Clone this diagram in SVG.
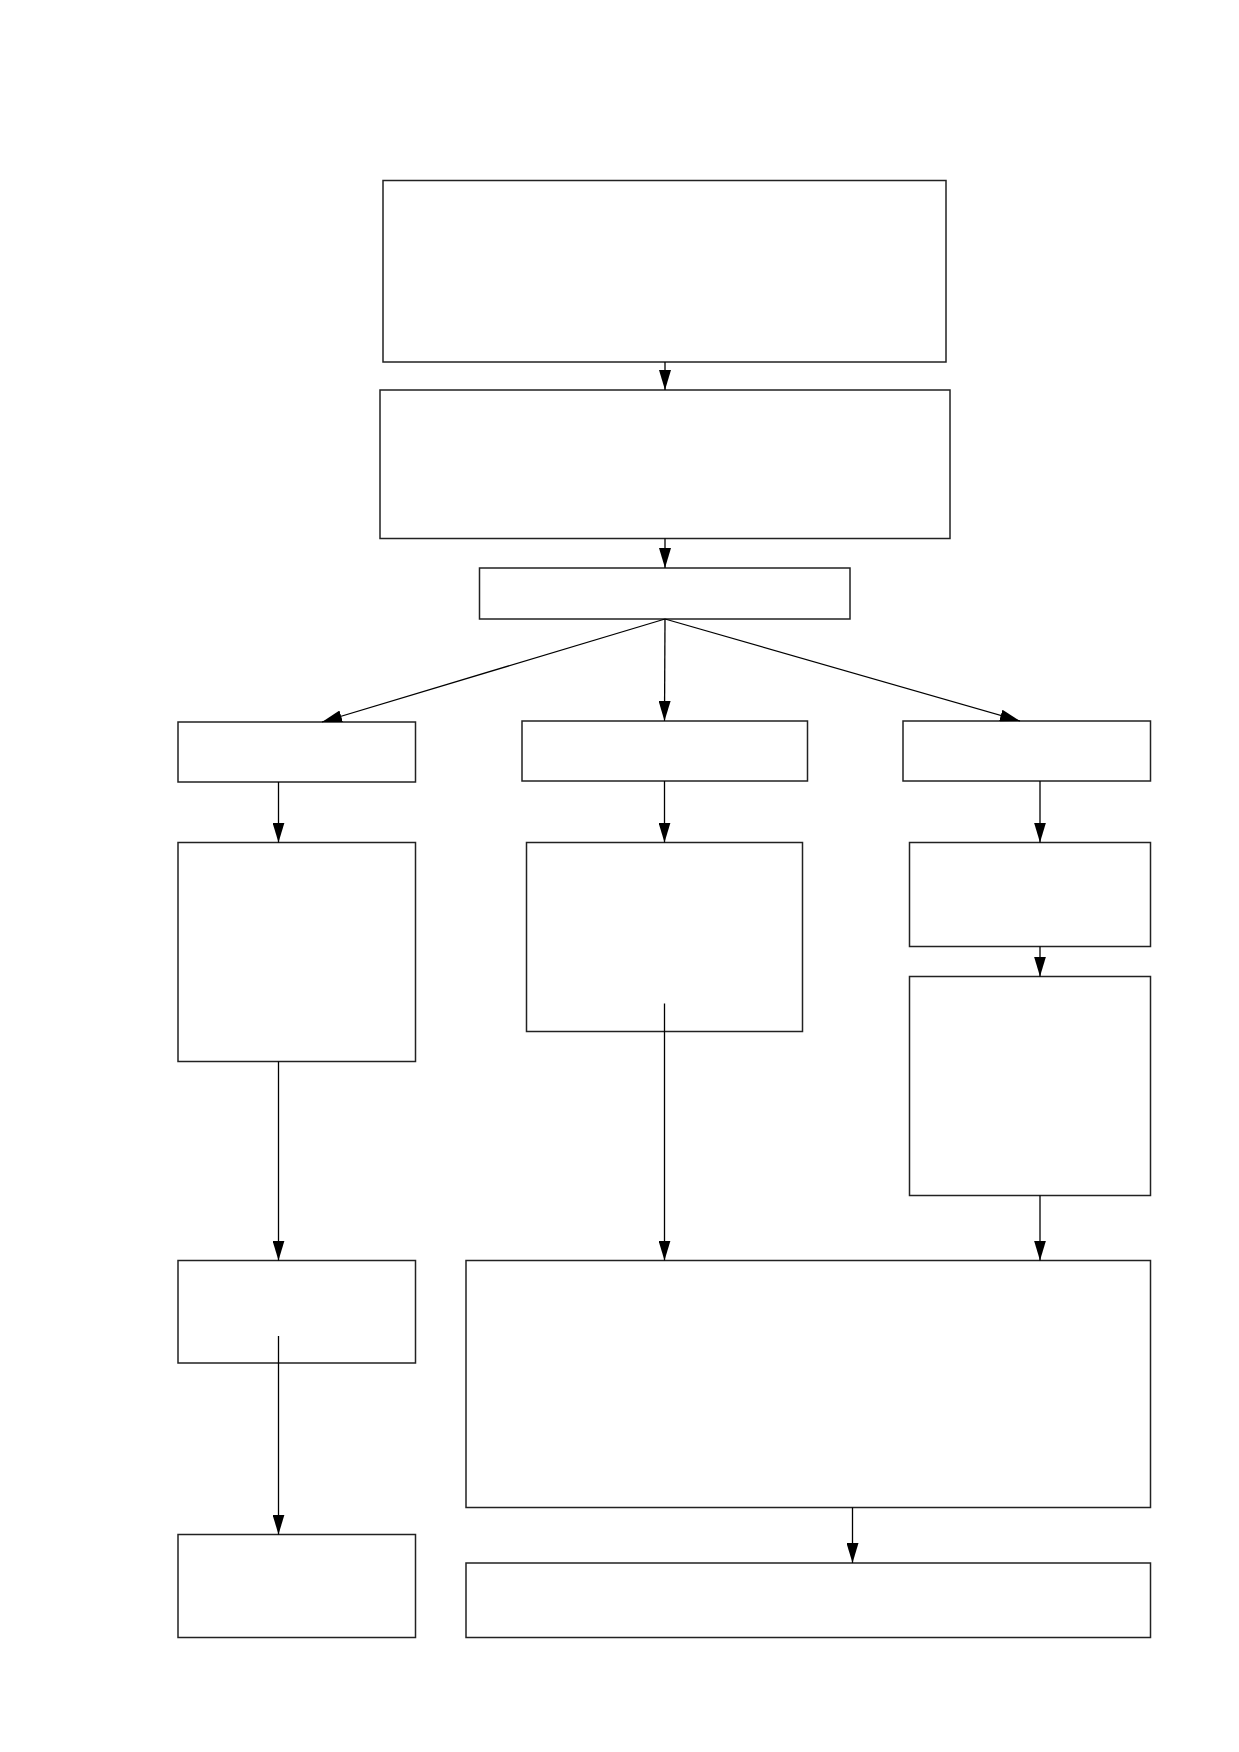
<svg xmlns="http://www.w3.org/2000/svg" width="1239" height="1752" viewBox="0 0 1239 1752">
<style>
.n{fill:#fff;stroke:#222;stroke-width:1.5}
.c{fill:none;stroke:#000;stroke-width:1.3}
</style>
<defs>
<marker id="ah" markerUnits="userSpaceOnUse" markerWidth="22" markerHeight="12" refX="20" refY="6" orient="auto">
<path d="M0,0 L20,6 L0,12 z" fill="#000"/>
</marker>
</defs>
<rect width="1239" height="1752" fill="#fff"/>
<g id="n1"><rect class="n" x="383" y="180.5" width="563" height="181.5"/></g>
<g id="n2"><rect class="n" x="380" y="390" width="570" height="148.5"/></g>
<g id="n3"><rect class="n" x="479.5" y="568" width="370.5" height="51"/></g>
<g id="n4"><rect class="n" x="178" y="722" width="237.5" height="60"/></g>
<g id="n5"><rect class="n" x="522" y="721" width="285.5" height="60"/></g>
<g id="n6"><rect class="n" x="903" y="721" width="247.5" height="60"/></g>
<g id="n7"><rect class="n" x="178" y="842.5" width="237.5" height="219"/></g>
<g id="n8"><rect class="n" x="526.5" y="842.5" width="276" height="189"/></g>
<g id="n9"><rect class="n" x="909.5" y="842.5" width="241" height="104"/></g>
<g id="n10"><rect class="n" x="909.5" y="976.5" width="241" height="219"/></g>
<g id="n11"><rect class="n" x="178" y="1260.5" width="237.5" height="102.5"/></g>
<g id="n12"><rect class="n" x="466" y="1260.5" width="684.5" height="247"/></g>
<g id="n13"><rect class="n" x="178" y="1534.5" width="237.5" height="103"/></g>
<g id="n14"><rect class="n" x="466" y="1563" width="684.5" height="74.5"/></g>
<g id="connectors">
<line class="c" x1="665" y1="362" x2="665" y2="390" marker-end="url(#ah)"/>
<line class="c" x1="665" y1="538.5" x2="665" y2="568" marker-end="url(#ah)"/>
<line class="c" x1="665" y1="619" x2="322" y2="722" marker-end="url(#ah)"/>
<line class="c" x1="665" y1="619" x2="664.5" y2="721" marker-end="url(#ah)"/>
<line class="c" x1="665" y1="619" x2="1020" y2="721" marker-end="url(#ah)"/>
<line class="c" x1="278.5" y1="782" x2="278.5" y2="842.5" marker-end="url(#ah)"/>
<line class="c" x1="664.5" y1="781" x2="664.5" y2="842.5" marker-end="url(#ah)"/>
<line class="c" x1="1040" y1="781" x2="1040" y2="842.5" marker-end="url(#ah)"/>
<line class="c" x1="1040" y1="946.5" x2="1040" y2="976.5" marker-end="url(#ah)"/>
<line class="c" x1="278.5" y1="1061.5" x2="278.5" y2="1260.5" marker-end="url(#ah)"/>
<line class="c" x1="664.5" y1="1003.5" x2="664.5" y2="1260.5" marker-end="url(#ah)"/>
<line class="c" x1="1040" y1="1195.5" x2="1040" y2="1260.5" marker-end="url(#ah)"/>
<line class="c" x1="278.5" y1="1336" x2="278.5" y2="1534.5" marker-end="url(#ah)"/>
<line class="c" x1="852.5" y1="1507.5" x2="852.5" y2="1563" marker-end="url(#ah)"/>
</g>
</svg>
